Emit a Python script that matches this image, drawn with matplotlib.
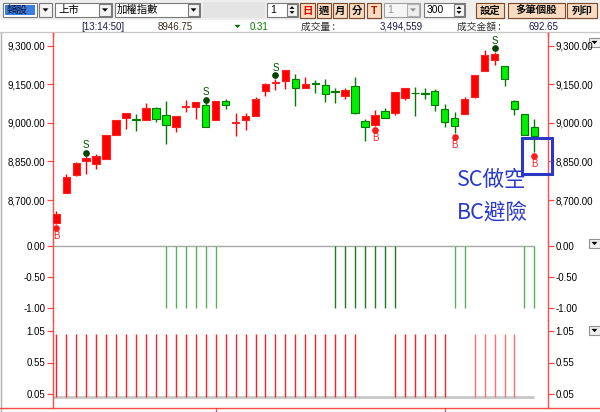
import matplotlib
matplotlib.use('Agg')
import matplotlib.pyplot as plt
from matplotlib.patches import Rectangle, Polygon
import numpy as np

# ---------------- data ----------------
opens  = [8610, 8728, 8797, 8852, 8840, 8860, 8953, 9020, 9014, 9012,
          9057, 9029, 8985, 9061, 9063, 9068, 9011, 9084, 8999, 9011,
          9027, 9124, 9154, 9164, 9170, 9137, 9156, 9147, 9122, 9106,
          9142, 9007, 8990, 9045, 9037, 9098, 9118, 9116, 9125, 9055,
          9018, 9035, 9102, 9202, 9244, 9221, 9086, 9034, 8985]
highs  = [8657, 8800, 8846, 8871, 8880, 8953, 9012, 9039, 9034, 9078,
          9060, 9086, 9027, 9088, 9082, 9076, 9086, 9092, 9037, 9038,
          9102, 9154, 9171, 9205, 9191, 9178, 9167, 9169, 9136, 9134,
          9178, 9016, 9049, 9059, 9120, 9135, 9139, 9134, 9132, 9073,
          9042, 9101, 9186, 9283, 9277, 9222, 9087, 9035, 9016]
lows   = [8608, 8727, 8795, 8800, 8820, 8858, 8952, 8975, 8970, 9010,
          9005, 8918, 8963, 9043, 9016, 8984, 9010, 9053, 8949, 8972,
          9025, 9104, 9128, 9133, 9067, 9136, 9117, 9081, 9076, 9093,
          9036, 8931, 8988, 9017, 9032, 9089, 9027, 9094, 9047, 8983,
          8960, 9033, 9097, 9200, 9224, 9144, 9029, 8952, 8888]
closes = [8645, 8790, 8844, 8862, 8871, 8952, 9011, 9038, 9011, 9057,
          9015, 8992, 9027, 9064, 9081, 8985, 9085, 9070, 9002, 9028,
          9093, 9152, 9157, 9204, 9134, 9152, 9153, 9112, 9120, 9127,
          9037, 8983, 9032, 9018, 9119, 9134, 9116, 9114, 9070, 9002,
          8989, 9093, 9185, 9263, 9266, 9169, 9053, 8953, 8947]

sell_idx = [3, 15, 22, 44]
buy_idx = [0, 32, 40, 48]

short_idx = [11, 12, 13, 14, 15, 16, 28, 29, 30, 31, 32, 33, 34, 40, 41, 47, 48]
short_vals = [-1] * len(short_idx)
long_idx = list(range(0, 31)) + [34, 35, 36, 37, 38, 39] + [42, 43, 44, 45, 46]
long_vals = [1] * len(long_idx)
month_ticks = [16, 39]

price_ticks = [8700, 8850, 9000, 9150, 9300]
short_ticks = [0.0, -0.5, -1.0]
long_ticks = [1.05, 0.55, 0.05]

info_labels = ["[13:14:50]", "8946.75", "0.31", "成交量 :", "3,494,559", "成交金額 :", "692.65"]
note_lines = ["SC做空", "BC避險"]

# ---------------- layout ----------------
W, H = 600, 412
plt.rcParams['font.family'] = ['Liberation Sans', 'Noto Sans CJK TC', 'DejaVu Sans']
CJK = ['Noto Sans CJK TC', 'DejaVu Sans']
fig = plt.figure(figsize=(W / 100, H / 100), dpi=100)


def rect(x0, y0, x1, y1):
    return [x0 / W, 1 - y1 / H, (x1 - x0) / W, (y1 - y0) / H]


bg = fig.add_axes([0, 0, 1, 1], zorder=0)
bg.set_xlim(0, W); bg.set_ylim(H, 0); bg.axis('off')
fg = fig.add_axes([0, 0, 1, 1], zorder=5)
fg.set_xlim(0, W); fg.set_ylim(H, 0); fg.axis('off'); fg.patch.set_alpha(0)

RED = '#ff4a4a'
XL, XR = 53, 548
x0i, dx = 56.3, 9.96
xlim = ((XL - x0i) / dx, (XR - x0i) / dx)

# price axis calibration (pixel -> value)
def pval(y):
    return 9300 - (y - 45.7) * (600 / 154.3)

ax1 = fig.add_axes(rect(XL, 33, XR, 242), zorder=2)
ax2 = fig.add_axes(rect(XL, 242, XR, 320), zorder=2)
ax3 = fig.add_axes(rect(XL, 320, XR, 407.7), zorder=2)
ax1.set_ylim(pval(242), pval(33))
ax2.set_ylim(-(320 - 246) / 61.7, (246 - 242) / 61.7)
ax3.set_ylim(1.05 - (407.7 - 331) / 63, 1.05 + (331 - 320) / 63)

for ax in (ax1, ax2, ax3):
    ax.set_xlim(*xlim)
    ax.patch.set_alpha(0)
    for s in ('top', 'bottom'):
        ax.spines[s].set_visible(False)
    for s in ('left', 'right'):
        ax.spines[s].set_color(RED)
        ax.spines[s].set_linewidth(1.0)
    ax.tick_params(axis='y', length=4, width=0.9, color=RED, labelcolor='black',
                   labelsize=7, left=True, right=True, labelleft=True,
                   labelright=True, pad=1.5)
    ax.tick_params(axis='x', bottom=False, labelbottom=False)

ax1.set_yticks(price_ticks)
ax1.set_yticklabels([f"{v:,.2f}" for v in price_ticks])
ax2.set_yticks(short_ticks)
ax2.set_yticklabels([f"{v:.2f}" for v in short_ticks])
ax3.set_yticks(long_ticks)
ax3.set_yticklabels([f"{v:.2f}" for v in long_ticks])
ax3.set_xticks(month_ticks)
ax3.tick_params(axis='x', bottom=True, length=4, width=0.9, color=RED,
                labelbottom=False, direction='out')

# ---------------- candles ----------------
o = np.array(opens, float); c = np.array(closes, float)
h = np.array(highs, float); l = np.array(lows, float)
x = np.arange(len(o))
up = c >= o
fill = np.where(up, '#ff0000', '#00ee00')
edge = np.where(up, '#ff2020', '#007a00')
wick = np.where(up, '#ff0000', '#007a00')
ax1.vlines(x, l, h, colors=wick, lw=1.0, zorder=2)
bottoms = np.minimum(o, c)
heights = np.maximum(np.abs(c - o), 1.5)
ax1.bar(x, heights, bottom=bottoms, width=0.74, color=fill, edgecolor=edge,
        linewidth=0.8, zorder=3)

ppx = (ax1.get_ylim()[1] - ax1.get_ylim()[0]) / (242 - 33)
for i in sell_idx:
    ax1.plot(i, h[i] + 3.5 * ppx, 'o', color='#004400', ms=3.8, zorder=4)
    ax1.text(i, h[i] + 11 * ppx, 'S', color='#005000', fontsize=7,
             ha='center', va='center', zorder=4)
for i in buy_idx:
    ax1.plot(i, l[i] - 4 * ppx, 'o', color='#ff1a1a', ms=3.8, zorder=4,
             clip_on=False)
    ax1.text(i, l[i] - 12 * ppx, 'B', color='#ff2020', fontsize=7,
             ha='center', va='center', zorder=4, clip_on=False)

# ---------------- indicator panels ----------------
ax2.hlines(0, xlim[0], len(o) - 1, color='#a8a8a8', lw=1.0)
sc = ['#1f7a1f' if 28 <= i <= 34 else '#5cb05c' for i in short_idx]
ax2.vlines(short_idx, 0, short_vals, colors=sc, lw=1.0)

ax3.hlines(0, xlim[0], len(o) - 1, color='#c8c8c8', lw=2.0, zorder=1)
lc = ['#ff7070' if i >= 42 else '#ff2020' for i in long_idx]
ax3.vlines(long_idx, 0, long_vals, colors=lc, lw=1.0, zorder=2)

# ---------------- window chrome ----------------
bg.add_patch(Rectangle((0, 0), W, 20, facecolor='#efefef', edgecolor='none'))
bg.add_patch(Rectangle((0, 20), W, H - 20, facecolor='white', edgecolor='none'))
bg.plot([0, W], [32, 32], color='#c8c8c8', lw=1)
bg.plot([1, 1], [33, H], color='#b0b0b0', lw=1)
bg.plot([0, W], [407.7, 407.7], color=RED, lw=1.0)
bg.plot([XL, XL], [33, 36], color=RED, lw=1.0)
bg.plot([XR, XR], [33, 36], color=RED, lw=1.0)


def box(x0, y0, x1, y1, fc='white', ec='#7a7a7a', lw=0.8, ax=bg):
    ax.add_patch(Rectangle((x0, y0), x1 - x0, y1 - y0, facecolor=fc,
                           edgecolor=ec, lw=lw))


def tri(cx, cy, s, color='black', ax=bg, updown='down'):
    if updown == 'down':
        pts = [(cx - s, cy - s * 0.55), (cx + s, cy - s * 0.55), (cx, cy + s * 0.55)]
    else:
        pts = [(cx - s, cy + s * 0.55), (cx + s, cy + s * 0.55), (cx, cy - s * 0.55)]
    ax.add_patch(Polygon(pts, closed=True, facecolor=color, edgecolor='none'))


# row 1 widgets
box(3, 3, 37, 17)
box(5, 5, 35, 15, fc='#3b7fe0', ec='none')
bg.text(7, 10, '類股', family=CJK, fontsize=7.5, color='#101030', va='center')
box(39, 3, 52, 17, fc='#f4f4f4'); tri(45.5, 10, 3)
box(55, 3, 112, 17)
bg.text(58, 10, '上市', family=CJK, fontsize=7.5, color='black', va='center')
box(99, 4, 111, 16, fc='#f4f4f4'); tri(105, 10, 3)
box(115, 3, 200, 17)
bg.text(117, 10, '加權指數', family=CJK, fontsize=7.5, color='black', va='center')
box(188, 4, 199, 16, fc='#f4f4f4'); tri(193.5, 10, 3)
box(203, 2, 265, 18, fc='#e4e4e4', ec='none')
box(267, 3, 298, 17)
bg.text(270, 10, '1', fontsize=7.5, color='black', va='center')
box(287, 4, 297, 16, fc='#f4f4f4')
tri(292, 7.5, 2.5, updown='up'); tri(292, 12.5, 2.5)

buttons = [(300, 315, '日', '#e00000'), (317, 331, '週', '#101010'),
           (333, 347, '月', '#101010'), (349, 364, '分', '#101010'),
           (367, 381, 'T', '#a02000'),
           (476, 504, '設定', '#101010'), (508, 565, '多筆個股', '#101010'),
           (567, 597, '列印', '#101010')]
for bx0, bx1, t, col in buttons:
    box(bx0, 3, bx1, 18, fc='#f9dcc0', ec='#7a4a2a')
    bg.text((bx0 + bx1) / 2, 10.5, t, family=CJK, fontsize=7.5, color=col,
            ha='center', va='center', fontweight='bold')
box(384, 3, 420, 17, fc='#f6f6f6', ec='#a0a0a0')
bg.text(387, 10, '1', fontsize=7.5, color='#909090', va='center')
box(407, 4, 419, 16, fc='#eeeeee', ec='#b0b0b0'); tri(413, 10, 3, color='#909090')
box(424, 3, 465, 17)
bg.text(427, 10, '300', fontsize=7.5, color='black', va='center')
box(454, 4, 464, 16, fc='#f4f4f4')
tri(459, 7.5, 2.5, updown='up'); tri(459, 12.5, 2.5)

# row 2 info
ty = 26.5
bg.text(103, ty, info_labels[0], fontsize=7, color='#1a1a50', ha='center', va='center')
bg.text(175, ty, info_labels[1], fontsize=7, color='#3a2a1a', ha='center', va='center')
tri(237.5, ty, 3, color='#007000')
bg.text(250, ty, info_labels[2], fontsize=7, color='#008000', va='center')
bg.text(301, ty, info_labels[3], family=CJK, fontsize=7, color='#303030', va='center')
bg.text(401, ty, info_labels[4], fontsize=7, color='#1a1a50', ha='center', va='center')
bg.text(457, ty, info_labels[5], family=CJK, fontsize=7, color='#303030', va='center')
bg.text(543, ty, info_labels[6], fontsize=7, color='#1a1a50', ha='center', va='center')

# right dropdown icons
for yy in (38, 239, 326):
    box(589, yy, 600, yy + 9, fc='#f0f0f0', ec='#909090')
    tri(594.5, yy + 4.5, 3)

# annotation box and note text
fg.add_patch(Rectangle((522.3, 138.3), 29.4, 35.7, facecolor='none',
                       edgecolor='#2a38c4', lw=2.2))
fg.text(457, 180, note_lines[0], family=CJK, fontsize=15.5, color='#2a3ac8',
        va='center', ha='left')
fg.text(457, 213, note_lines[1], family=CJK, fontsize=15.5, color='#2a3ac8',
        va='center', ha='left')

fig.savefig('out.png', dpi=100)
